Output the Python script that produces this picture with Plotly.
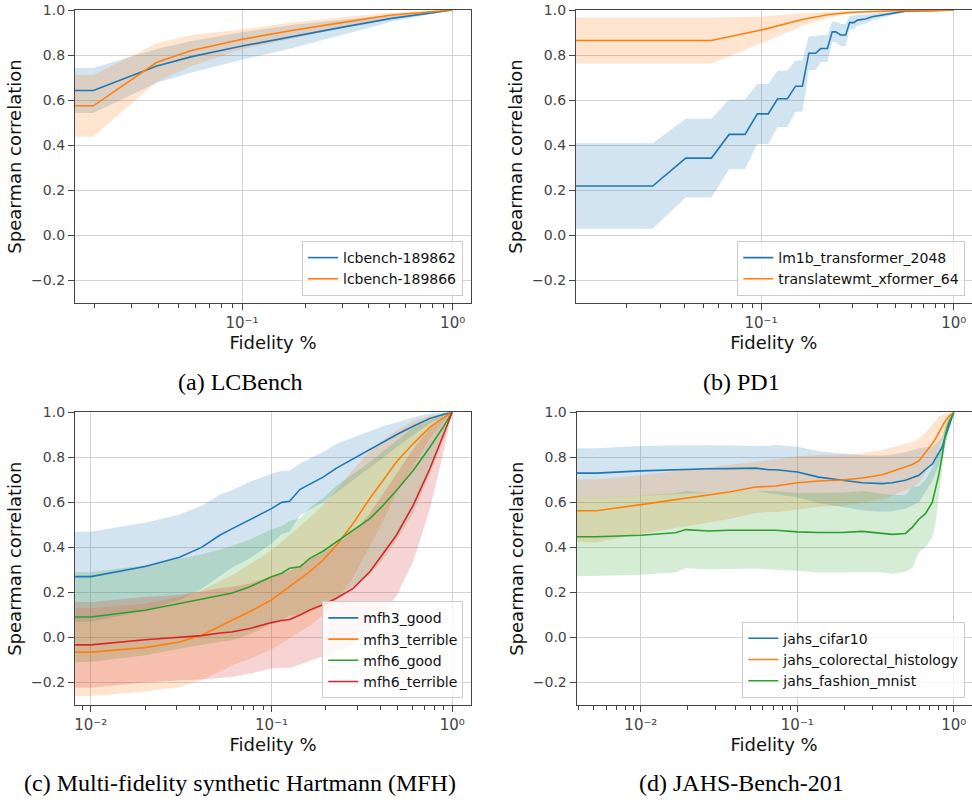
import plotly.graph_objects as go

# ---------------- data ----------------
# (a) LCBench
lc_x = [0.0161, 0.0197, 0.0394, 0.0577, 0.1, 0.172, 0.297, 0.513, 1.0]
lc_189862_mean = [0.643, 0.643, 0.752, 0.793, 0.84, 0.882, 0.923, 0.963, 1.0]
lc_189862_std = [0.1, 0.1, 0.075, 0.07, 0.061, 0.052, 0.034, 0.015, 0.0]
lc_189866_mean = [0.575, 0.575, 0.768, 0.82, 0.87, 0.909, 0.944, 0.978, 1.0]
lc_189866_std = [0.137, 0.137, 0.085, 0.069, 0.044, 0.035, 0.024, 0.01, 0.0]

# (b) PD1
pd1_lm1b_x = [0.0109, 0.0274, 0.0407, 0.0553, 0.0683, 0.0826, 0.0957, 0.109, 0.122, 0.137,
              0.151, 0.164, 0.177, 0.192, 0.204, 0.221, 0.234, 0.244, 0.259, 0.275,
              0.288, 0.303, 0.316, 0.348, 0.377, 0.443, 0.519, 0.562, 1.0]
pd1_lm1b_mean = [0.219, 0.219, 0.343, 0.343, 0.448, 0.448, 0.539, 0.539, 0.606, 0.606,
                 0.662, 0.662, 0.808, 0.808, 0.829, 0.829, 0.903, 0.903, 0.889, 0.889,
                 0.944, 0.944, 0.955, 0.96, 0.97, 0.98, 0.99, 0.995, 1.0]
pd1_lm1b_std = [0.19, 0.19, 0.175, 0.175, 0.155, 0.155, 0.133, 0.133, 0.125, 0.125,
                0.114, 0.114, 0.075, 0.075, 0.06, 0.06, 0.045, 0.045, 0.05, 0.05,
                0.03, 0.03, 0.025, 0.02, 0.015, 0.01, 0.005, 0.003, 0.0]
pd1_wmt_x = [0.0109, 0.0553, 0.1, 0.164, 0.225, 0.3, 0.55, 0.75, 1.0]
pd1_wmt_mean = [0.865, 0.865, 0.911, 0.958, 0.98, 0.99, 0.998, 0.996, 1.0]
pd1_wmt_std = [0.102, 0.102, 0.06, 0.028, 0.012, 0.006, 0.002, 0.002, 0.0]

# (c) MFH
mfh_x = [0.0082, 0.01, 0.02, 0.031, 0.041, 0.052, 0.06, 0.076, 0.1, 0.114, 0.126, 0.144,
         0.163, 0.193, 0.229, 0.283, 0.35, 0.415, 0.491, 0.608, 0.752, 0.891, 1.0]
mfh3_good_mean = [0.27, 0.27, 0.315, 0.356, 0.40, 0.455, 0.481, 0.522, 0.572, 0.60, 0.605, 0.658,
                  0.68, 0.712, 0.752, 0.794, 0.835, 0.868, 0.90, 0.938, 0.972, 0.99, 1.0]
mfh3_good_std = [0.2, 0.2, 0.195, 0.19, 0.185, 0.18, 0.172, 0.17, 0.155, 0.14, 0.135, 0.115,
                 0.115, 0.112, 0.108, 0.095, 0.082, 0.07, 0.055, 0.04, 0.022, 0.01, 0.0]
mfh3_terrible_mean = [-0.065, -0.065, -0.045, -0.02, 0.01, 0.05, 0.074, 0.115, 0.167, 0.2, 0.226, 0.26,
                      0.292, 0.344, 0.41, 0.506, 0.617, 0.698, 0.779, 0.86, 0.934, 0.975, 1.0]
mfh3_terrible_std = [0.195, 0.195, 0.195, 0.2, 0.2, 0.2, 0.2, 0.21, 0.22, 0.225, 0.23, 0.235,
                     0.24, 0.245, 0.245, 0.24, 0.21, 0.18, 0.14, 0.1, 0.05, 0.02, 0.0]
mfh6_good_mean = [0.091, 0.091, 0.121, 0.15, 0.168, 0.186, 0.196, 0.225, 0.27, 0.285, 0.307, 0.314,
                  0.351, 0.383, 0.425, 0.476, 0.528, 0.587, 0.653, 0.742, 0.845, 0.934, 1.0]
mfh6_good_std = [0.2, 0.2, 0.2, 0.2, 0.2, 0.205, 0.21, 0.21, 0.21, 0.21, 0.21, 0.215,
                 0.225, 0.235, 0.25, 0.25, 0.25, 0.24, 0.22, 0.19, 0.12, 0.06, 0.0]
mfh6_terrible_mean = [-0.033, -0.033, -0.01, 0.0, 0.008, 0.02, 0.024, 0.04, 0.066, 0.075, 0.08, 0.10,
                      0.122, 0.145, 0.174, 0.218, 0.292, 0.373, 0.454, 0.587, 0.749, 0.897, 1.0]
mfh6_terrible_std = [0.19, 0.19, 0.19, 0.19, 0.195, 0.2, 0.2, 0.2, 0.205, 0.21, 0.215, 0.22,
                     0.225, 0.23, 0.24, 0.25, 0.26, 0.265, 0.27, 0.25, 0.18, 0.08, 0.0]

# (d) JAHS-Bench-201
jahs_x = [0.0039, 0.0052, 0.01, 0.0167, 0.0194, 0.0273, 0.0367, 0.0542, 0.066, 0.0727, 0.1,
          0.137, 0.194, 0.26, 0.349, 0.404, 0.491, 0.544, 0.598, 0.659, 0.728, 0.763, 0.80,
          0.843, 0.88, 0.93, 1.0]
jahs_cifar10_mean = [0.73, 0.73, 0.74, 0.746, 0.747, 0.749, 0.75, 0.752, 0.745, 0.745, 0.735,
                     0.712, 0.698, 0.687, 0.683, 0.687, 0.698, 0.71, 0.72, 0.746, 0.77, 0.794, 0.82,
                     0.845, 0.89, 0.94, 1.0]
jahs_cifar10_std = [0.11, 0.11, 0.11, 0.108, 0.107, 0.105, 0.103, 0.1, 0.105, 0.11, 0.112,
                    0.115, 0.118, 0.122, 0.125, 0.126, 0.126, 0.124, 0.12, 0.1, 0.075, 0.065, 0.055,
                    0.045, 0.045, 0.03, 0.0]
jahs_colorectal_mean = [0.563, 0.563, 0.59, 0.612, 0.617, 0.634, 0.646, 0.668, 0.673, 0.673, 0.687,
                        0.695, 0.699, 0.708, 0.723, 0.737, 0.757, 0.768, 0.784, 0.82, 0.86, 0.882, 0.91,
                        0.934, 0.96, 0.982, 1.0]
jahs_colorectal_std = [0.14, 0.14, 0.13, 0.127, 0.125, 0.123, 0.12, 0.115, 0.115, 0.117, 0.118,
                       0.115, 0.113, 0.11, 0.11, 0.108, 0.104, 0.1, 0.098, 0.09, 0.085, 0.08, 0.07,
                       0.055, 0.035, 0.015, 0.0]
jahs_fashion_mean = [0.447, 0.447, 0.454, 0.465, 0.479, 0.473, 0.476, 0.478, 0.476, 0.476, 0.469,
                     0.466, 0.466, 0.471, 0.463, 0.458, 0.462, 0.49, 0.525, 0.55, 0.60, 0.658, 0.72,
                     0.808, 0.897, 0.956, 1.0]
jahs_fashion_std = [0.175, 0.175, 0.176, 0.175, 0.172, 0.17, 0.172, 0.172, 0.174, 0.175, 0.173,
                    0.178, 0.178, 0.18, 0.175, 0.175, 0.17, 0.18, 0.145, 0.15, 0.155, 0.155, 0.11,
                    0.06, 0.04, 0.03, 0.0]

y_ticks = [-0.2, 0.0, 0.2, 0.4, 0.6, 0.8, 1.0]
y_ticktext = ["\u22120.2", "0.0", "0.2", "0.4", "0.6", "0.8", "1.0"]
x_ticktext = {0.01: "10\u207b\u00b2", 0.1: "10\u207b\u00b9", 1.0: "10\u2070"}
captions = ["(a) LCBench", "(b) PD1", "(c) Multi-fidelity synthetic Hartmann (MFH)", "(d) JAHS-Bench-201"]

BLUE, ORANGE, GREEN, RED = "#1f77b4", "#ff7f0e", "#2ca02c", "#d62728"


def rgba(hexc, a):
    h = hexc.lstrip("#")
    return "rgba(%d,%d,%d,%s)" % (int(h[0:2], 16), int(h[2:4], 16), int(h[4:6], 16), a)


panels = [
    dict(ax="", legend="legend", series=[
        ("lcbench-189862", lc_x, lc_189862_mean, lc_189862_std, BLUE),
        ("lcbench-189866", lc_x, lc_189866_mean, lc_189866_std, ORANGE)]),
    dict(ax="2", legend="legend2", series=[
        ("lm1b_transformer_2048", pd1_lm1b_x, pd1_lm1b_mean, pd1_lm1b_std, BLUE),
        ("translatewmt_xformer_64", pd1_wmt_x, pd1_wmt_mean, pd1_wmt_std, ORANGE)]),
    dict(ax="3", legend="legend3", series=[
        ("mfh3_good", mfh_x, mfh3_good_mean, mfh3_good_std, BLUE),
        ("mfh3_terrible", mfh_x, mfh3_terrible_mean, mfh3_terrible_std, ORANGE),
        ("mfh6_good", mfh_x, mfh6_good_mean, mfh6_good_std, GREEN),
        ("mfh6_terrible", mfh_x, mfh6_terrible_mean, mfh6_terrible_std, RED)]),
    dict(ax="4", legend="legend4", series=[
        ("jahs_cifar10", jahs_x, jahs_cifar10_mean, jahs_cifar10_std, BLUE),
        ("jahs_colorectal_histology", jahs_x, jahs_colorectal_mean, jahs_colorectal_std, ORANGE),
        ("jahs_fashion_mnist", jahs_x, jahs_fashion_mean, jahs_fashion_std, GREEN)]),
]

fig = go.Figure()
for p in panels:
    xa, ya = "x" + p["ax"], "y" + p["ax"]
    # bands first (below all lines)
    for name, x, m, s, c in p["series"]:
        up = [a + b for a, b in zip(m, s)]
        lo = [a - b for a, b in zip(m, s)]
        fig.add_trace(go.Scatter(x=list(x) + list(x)[::-1], y=up + lo[::-1], fill="toself",
                                 fillcolor=rgba(c, 0.2), line=dict(width=0), mode="lines",
                                 hoverinfo="skip", showlegend=False, xaxis=xa, yaxis=ya))
    for name, x, m, s, c in p["series"]:
        fig.add_trace(go.Scatter(x=x, y=m, mode="lines", name=name, line=dict(color=c, width=1.6),
                                 xaxis=xa, yaxis=ya, legend=p["legend"]))

W, H = 972, 802
FONT = "DejaVu Sans"
TICKC = "#444444"
SPINE = "#444444"
GRID = "#d3d3d3"


def minor_vals(lo_exp, hi_exp):
    return [k * 10.0 ** e for e in range(lo_exp, hi_exp + 1) for k in range(2, 10)]


def xaxis(dom, rng, majors, anchor):
    return dict(type="log", domain=dom, range=rng, anchor=anchor,
                tickmode="array", tickvals=majors, ticktext=[x_ticktext[v] for v in majors],
                ticks="outside", ticklen=6, tickwidth=1, tickcolor=SPINE,
                tickfont=dict(family=FONT, size=15, color=TICKC),
                showline=True, linecolor=SPINE, linewidth=1.3, mirror=True,
                showgrid=True, gridcolor=GRID, gridwidth=1, zeroline=False,
                minor=dict(tickmode="array", tickvals=minor_vals(-3, 0), ticks="outside",
                           ticklen=3.5, tickwidth=0.8, tickcolor=SPINE, showgrid=False),
                title=dict(text="Fidelity %", font=dict(family=FONT, size=18, color="#111111"), standoff=4),
                automargin=False)


def yaxis(dom, anchor):
    return dict(domain=dom, range=[-0.3, 1.0], anchor=anchor,
                tickmode="array", tickvals=y_ticks, ticktext=y_ticktext,
                ticks="outside", ticklen=6, tickwidth=1, tickcolor=SPINE,
                tickfont=dict(family=FONT, size=14, color=TICKC),
                showline=True, linecolor=SPINE, linewidth=1.3, mirror=True,
                showgrid=True, gridcolor=GRID, gridwidth=1, zeroline=False,
                title=dict(text="Spearman correlation", font=dict(family=FONT, size=18, color="#111111"), standoff=4),
                automargin=False)


xa_dom = [75 / W, 471 / W]
xb_dom = [576 / W, 971.5 / W]
xd_dom = [576.7 / W, 971.5 / W]
y_top = [1 - 303 / H, 1 - 10 / H]
y_bot = [1 - 705 / H, 1 - 412.3 / H]

legend_style = dict(bgcolor="rgba(255,255,255,0.8)", bordercolor="#cccccc", borderwidth=1,
                    font=dict(family=FONT, size=14, color="#111111"), xanchor="right", yanchor="bottom",
                    tracegroupgap=0, itemwidth=30)

fig.update_layout(
    width=W, height=H, margin=dict(l=0, r=0, t=0, b=0),
    paper_bgcolor="white", plot_bgcolor="white",
    xaxis=xaxis(xa_dom, [-1.793, 0.087], [0.1, 1.0], "y"),
    yaxis=yaxis(y_top, "x"),
    xaxis2=xaxis(xb_dom, [-1.96, 0.092], [0.1, 1.0], "y2"),
    yaxis2=yaxis(y_top, "x2"),
    xaxis3=xaxis(xa_dom, [-2.087, 0.104], [0.01, 0.1, 1.0], "y3"),
    yaxis3=yaxis(y_bot, "x3"),
    xaxis4=xaxis(xd_dom, [-2.41, 0.113], [0.01, 0.1, 1.0], "y4"),
    yaxis4=yaxis(y_bot, "x4"),
    legend=dict(x=463 / W, y=1 - 296 / H, **legend_style),
    legend2=dict(x=965.3 / W, y=1 - 296 / H, **legend_style),
    legend3=dict(x=463.3 / W, y=1 - 698.3 / H, **legend_style),
    legend4=dict(x=965.3 / W, y=1 - 697.7 / H, **legend_style),
    showlegend=True,
)

cap_pos = [(240, 382), (741, 382), (240, 783), (741, 783)]
for txt, (cx, cy) in zip(captions, cap_pos):
    fig.add_annotation(text=txt, x=cx / W, y=1 - cy / H, xref="paper", yref="paper",
                       xanchor="center", yanchor="middle", showarrow=False,
                       font=dict(family="Liberation Serif", size=24, color="#000000"))

fig.write_html("out.html")
